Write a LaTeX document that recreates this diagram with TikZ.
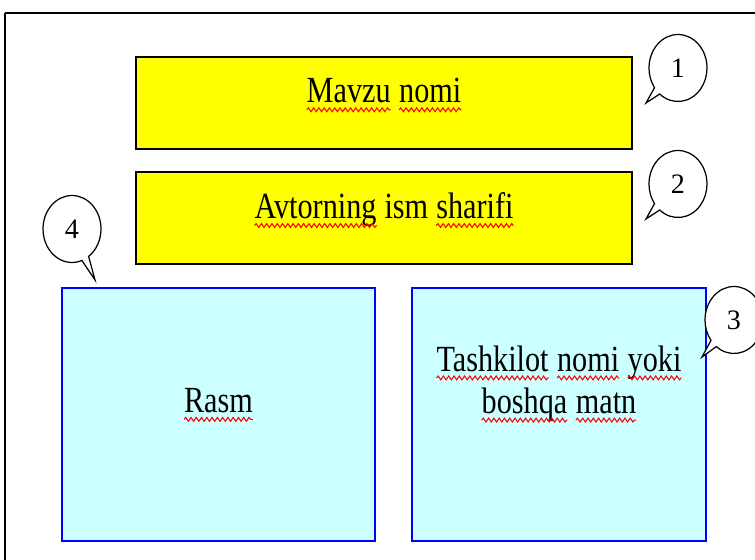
\documentclass[tikz,border=0pt]{standalone}
\usepackage{fontspec}
\setmainfont{Liberation Serif}
\usetikzlibrary{shapes.callouts,decorations.pathmorphing}
\definecolor{titlefill}{RGB}{255,255,0}
\definecolor{picfill}{RGB}{204,255,255}
\newcommand\tall[1]{\scalebox{1}[1.22]{#1}}
\newcommand\sq[1]{\tikz[baseline=(w.base)]{\node[shape=rectangle,draw=none,fill=none,inner sep=0pt,outer sep=0pt,
    minimum width=0pt,minimum height=0pt,text depth=,text height=] (w) {#1};
  \draw[red,line width=0.55pt,decorate,decoration={snake,amplitude=0.9pt,segment length=3pt}]
    ([yshift=-3.2pt]w.base west) -- ([yshift=-3.2pt]w.base east);}}

\begin{document}
\begin{tikzpicture}[x=0.02cm,y=-0.02cm,
    titlebox/.style={draw=black,line width=0.8pt,fill=titlefill,minimum width=9.92cm,minimum height=1.84cm,
      text depth=14pt,font=\fontsize{17.2}{24}\selectfont},
    picbox/.style={draw=blue,line width=1.2pt,fill=picfill,minimum height=5.06cm,
      align=center,font=\fontsize{17.2}{24}\selectfont},
    bubble/.style={ellipse callout,draw=black,line width=0.7pt,fill=white,minimum width=1.16cm,
      minimum height=1.34cm,inner sep=0pt,font=\fontsize{16}{18}\selectfont}]
  \useasboundingbox (0,0) rectangle (755,560);
  \clip (0,0) rectangle (755,560);
  \draw[line width=1.3pt] (5,13) -- (770,13) (5,13) -- (5,575);

  \node[titlebox] (title) at (384,103) {\tall{\sq{Mavzu} \sq{nomi}}};
  \node[titlebox] (author) at (384,218) {\tall{\sq{Avtorning} ism \sq{sharifi}}};
  \node[picbox,minimum width=6.26cm,text depth=16pt] (pic) at (218.5,414.5) {\tall{\sq{Rasm}}};
  \node[picbox,minimum width=5.88cm,text depth=40pt] (org) at (559,414.5)
    {\tall{\sq{Tashkilot} \sq{nomi} \sq{yoki}}\\\tall{\sq{boshqa} \sq{matn}}};

  \node[bubble,callout absolute pointer={(646,103)}] (c1) at (678,68) {1};
  \node[bubble,callout absolute pointer={(646,219)}] (c2) at (678,184) {2};
  \node[bubble,callout absolute pointer={(702,357)}] (c3) at (734,320) {3};
  \node[bubble,callout absolute pointer={(95,280)}] (c4) at (72,229) {4};
\end{tikzpicture}
\end{document}
